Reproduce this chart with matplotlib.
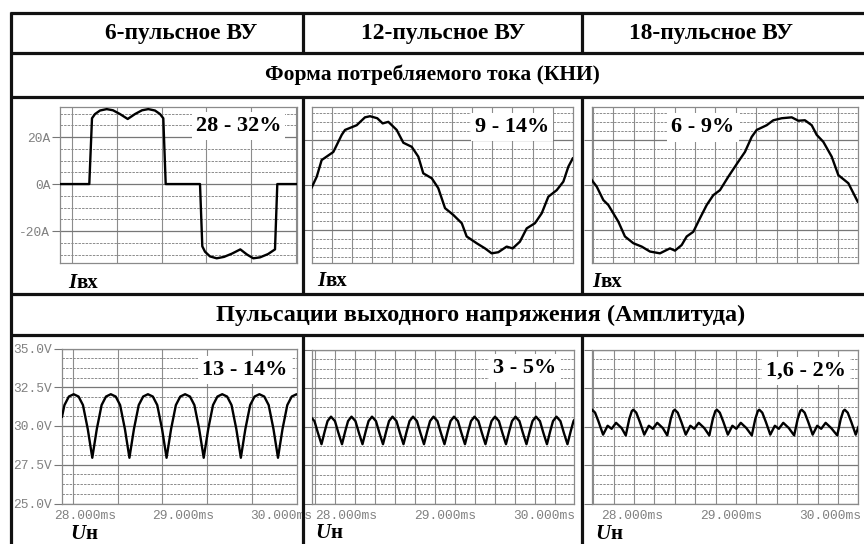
import numpy as np
import matplotlib.pyplot as plt

W, H = 864, 544

col_titles = ['6-пульсное ВУ', '12-пульсное ВУ', '18-пульсное ВУ']
row_titles = ['Форма потребляемого тока (КНИ)',
              'Пульсации выходного напряжения (Амплитуда)']
thd_labels = ['28 - 32%', '9 - 14%', '6 - 9%']
ripple_labels = ['13 - 14%', '3 - 5%', '1,6 - 2%']

t_i6 = [-1.071, 1.545, 1.786, 2.054, 2.500, 3.098, 3.661, 4.286, 4.973, 5.625,
        6.250, 6.813, 7.411, 7.857, 8.152, 8.366, 11.429, 11.634, 11.875, 12.321,
        12.920, 13.571, 14.286, 15.027, 15.625, 16.188, 16.786, 17.500, 18.125,
        18.330, 20.089]
i6 = [0, 0, 28.0, 29.8, 31.3, 31.9, 31.4, 29.8, 27.7, 29.8,
      31.4, 31.9, 31.3, 29.8, 28.0, 0, 0, -26.5, -28.8, -30.8,
      -31.6, -31.0, -29.6, -27.8, -30.0, -31.6, -31.2, -29.8, -27.8,
      0, 0]

t_i12 = [0.00, 0.41, 0.81, 1.76, 2.44, 2.71, 3.66, 4.33, 4.74, 5.33,
         5.77, 6.23, 6.91, 7.45, 8.13, 8.67, 9.07, 9.76, 10.29, 10.84,
         11.51, 12.20, 12.60, 13.41, 14.09, 14.63, 15.17, 15.85, 16.34, 16.93,
         17.48, 18.15, 18.70, 19.24, 19.92, 20.46, 20.87, 21.22]
i12 = [-1.1, 3.7, 11.1, 14.7, 22.3, 24.5, 26.6, 30.1, 30.6, 29.7,
       27.4, 28.1, 24.5, 18.8, 17.0, 12.6, 5.2, 3.0, -1.4, -10.3,
       -13.3, -17.0, -22.9, -25.9, -28.2, -30.4, -29.9, -27.4, -28.2, -25.2,
       -19.3, -17.0, -12.6, -5.2, -2.3, 1.5, 8.2, 11.8]

t_i18 = [0.00, 0.40, 0.93, 1.33, 2.13, 2.66, 3.33, 4.00, 4.66, 5.46,
         6.00, 6.26, 6.66, 7.20, 7.60, 8.13, 8.66, 9.20, 9.73, 10.26,
         10.93, 11.73, 12.26, 12.80, 13.20, 14.00, 14.53, 15.20, 16.00, 16.53,
         17.06, 17.60, 18.00, 18.53, 19.20, 19.73, 20.53, 21.28]
i18 = [2.2, -0.7, -6.7, -8.9, -16.3, -22.9, -25.9, -27.4, -29.6, -30.4,
       -28.9, -28.2, -29.2, -26.7, -22.9, -20.8, -14.8, -8.9, -4.5, -2.3,
       3.7, 10.4, 14.7, 21.4, 24.5, 26.6, 28.8, 29.7, 30.1, 28.6,
       28.8, 26.6, 22.3, 19.2, 12.6, 4.4, 0.8, -7.4]

# output voltage, t in ms, u in V
t_u6 = [27.765, 27.790, 27.835, 27.884, 27.934, 27.979, 28.028, 28.074,
        28.120, 28.169, 28.214, 28.263, 28.313, 28.358, 28.407, 28.453,
        28.499, 28.548, 28.593, 28.642, 28.692, 28.737, 28.786, 28.832,
        28.878, 28.927, 28.972, 29.021, 29.071, 29.116, 29.165, 29.211,
        29.257, 29.306, 29.351, 29.400, 29.450, 29.495, 29.544, 29.590,
        29.636, 29.685, 29.730, 29.779, 29.829, 29.874, 29.923, 29.969,
        30.015, 30.064, 30.109, 30.158, 30.163]
u6 = [30.60, 31.35, 31.90, 32.05, 31.90, 31.35, 29.80, 27.95,
      29.80, 31.35, 31.90, 32.05, 31.90, 31.35, 29.80, 27.95,
      29.80, 31.35, 31.90, 32.05, 31.90, 31.35, 29.80, 27.95,
      29.80, 31.35, 31.90, 32.05, 31.90, 31.35, 29.80, 27.95,
      29.80, 31.35, 31.90, 32.05, 31.90, 31.35, 29.80, 27.95,
      29.80, 31.35, 31.90, 32.05, 31.90, 31.35, 29.80, 27.95,
      29.80, 31.35, 31.90, 32.05, 32.04]

t_u12 = [27.657, 27.685, 27.719,
         27.756, 27.789, 27.817, 27.852, 27.892, 27.926,
         27.963, 27.996, 28.024, 28.059, 28.099, 28.133,
         28.170, 28.203, 28.231, 28.266, 28.306, 28.340,
         28.377, 28.410, 28.438, 28.473, 28.513, 28.547,
         28.584, 28.617, 28.645, 28.680, 28.720, 28.754,
         28.791, 28.824, 28.852, 28.887, 28.927, 28.961,
         28.998, 29.031, 29.059, 29.094, 29.134, 29.168,
         29.205, 29.238, 29.266, 29.301, 29.341, 29.375,
         29.412, 29.445, 29.473, 29.508, 29.548, 29.582,
         29.619, 29.652, 29.680, 29.715, 29.755, 29.789,
         29.826, 29.859, 29.887, 29.922, 29.962, 29.996,
         30.033, 30.066, 30.094, 30.129, 30.169, 30.203,
         30.240, 30.273, 30.301, 30.306]
u12 = [30.55, 30.35, 29.60,
       28.85, 29.70, 30.35, 30.64, 30.35, 29.60,
       28.85, 29.70, 30.35, 30.64, 30.35, 29.60,
       28.85, 29.70, 30.35, 30.64, 30.35, 29.60,
       28.85, 29.70, 30.35, 30.64, 30.35, 29.60,
       28.85, 29.70, 30.35, 30.64, 30.35, 29.60,
       28.85, 29.70, 30.35, 30.64, 30.35, 29.60,
       28.85, 29.70, 30.35, 30.64, 30.35, 29.60,
       28.85, 29.70, 30.35, 30.64, 30.35, 29.60,
       28.85, 29.70, 30.35, 30.64, 30.35, 29.60,
       28.85, 29.70, 30.35, 30.64, 30.35, 29.60,
       28.85, 29.70, 30.35, 30.64, 30.35, 29.60,
       28.85, 29.70, 30.35, 30.64, 30.35, 29.60,
       28.85, 29.70, 30.35, 30.40]

t_u18 = [27.596, 27.600, 27.630, 27.666, 27.711, 27.757, 27.797, 27.842, 27.898,
         27.940, 27.976, 28.001, 28.016, 28.046, 28.082, 28.127, 28.173, 28.213,
         28.258, 28.314, 28.359, 28.395, 28.420, 28.435, 28.465, 28.501, 28.546,
         28.592, 28.632, 28.677, 28.733, 28.784, 28.820, 28.845, 28.860, 28.890,
         28.926, 28.971, 29.017, 29.057, 29.102, 29.158, 29.213, 29.249, 29.274,
         29.289, 29.319, 29.355, 29.400, 29.446, 29.486, 29.531, 29.587, 29.641,
         29.677, 29.702, 29.717, 29.747, 29.783, 29.828, 29.874, 29.914, 29.959,
         30.015, 30.076, 30.112, 30.137, 30.152, 30.182, 30.218, 30.263, 30.289]
u18 = [31.05, 31.09, 30.90, 30.30, 29.47, 30.05, 29.85, 30.24, 29.90,
       29.42, 30.50, 31.00, 31.09, 30.90, 30.30, 29.47, 30.05, 29.85,
       30.24, 29.90, 29.42, 30.50, 31.00, 31.09, 30.90, 30.30, 29.47,
       30.05, 29.85, 30.24, 29.90, 29.42, 30.50, 31.00, 31.09, 30.90,
       30.30, 29.47, 30.05, 29.85, 30.24, 29.90, 29.42, 30.50, 31.00,
       31.09, 30.90, 30.30, 29.47, 30.05, 29.85, 30.24, 29.90, 29.42,
       30.50, 31.00, 31.09, 30.90, 30.30, 29.47, 30.05, 29.85, 30.24,
       29.90, 29.42, 30.50, 31.00, 31.09, 30.90, 30.30, 29.47, 29.96]

SERIF = ['Liberation Serif', 'DejaVu Serif']
MONO = ['Liberation Mono', 'DejaVu Sans Mono']
TICKC = '#808080'

fig = plt.figure(figsize=(W / 100, H / 100), dpi=100)
fig.patch.set_facecolor('white')


def panel(box, xlim, ylim, vlines, hmajor, hminor):
    x0, y0, x1, y1 = box
    ax = fig.add_axes([x0 / W, 1 - y1 / H, (x1 - x0) / W, (y1 - y0) / H])
    ax.set_xlim(xlim)
    ax.set_ylim(ylim)
    for v in vlines:
        ax.axvline(v, color='#8c8c8c', lw=0.8, zorder=1)
    for h in hminor:
        ax.axhline(h, color='#8c8c8c', lw=0.7, ls=(0, (2.5, 1.2)), zorder=1)
    for h in hmajor:
        ax.axhline(h, color='#777777', lw=0.9, zorder=1)
    for s in ax.spines.values():
        s.set_color('#8a8a8a')
        s.set_linewidth(0.9)
    ax.set_yticks(hmajor)
    ax.set_yticklabels([])
    ax.tick_params(axis='y', length=6, width=0.8, color='#777777', pad=1,
                   labelsize=9.3, labelcolor=TICKC)
    ax.set_xticks([])
    return ax


cur_major = [-20, 0, 20]
volt_major = [25, 27.5, 30, 32.5, 35]
volt_minor = [v for v in np.arange(25, 35.01, 0.625) if v not in volt_major]

axA = panel((60, 107, 297, 263), (-1.071, 20.089), (-33.6, 32.8),
            np.arange(0, 20.1, 4), cur_major,
            [v for v in range(-30, 31, 5) if v % 20])
axA.set_yticklabels(['-20A', '0A', '20A'], family=MONO)
axA.plot(t_i6, i6, color='black', lw=1.7, zorder=3)

axB = panel((311.7, 107, 572.7, 263), (0, 21.22), (-34.7, 34.7),
            np.arange(1.632, 21.2, 1.632), cur_major,
            [v for v in range(-32, 33, 4) if v % 20])
axB.plot(t_i12, i12, color='black', lw=1.7, zorder=3)

axC = panel((591.7, 107, 857.7, 263), (0, 21.28), (-34.7, 34.7),
            np.arange(0.104, 21.3, 1.632), cur_major,
            [v for v in range(-32, 33, 4) if v % 20])
axC.plot(t_i18, i18, color='black', lw=1.7, zorder=3)

axD = panel((62, 348.5, 297, 503.5), (27.765, 30.163), (25, 35),
            27.874 + 0.4582 * np.arange(5), volt_major, volt_minor)
axD.set_yticklabels(['25.0V', '27.5V', '30.0V', '32.5V', '35.0V'], family=MONO)
axD.plot(t_u6, u6, color='black', lw=1.7, zorder=3)

axE = panel((311.7, 349.5, 574, 503.5), (27.657, 30.306), (25, 35),
            np.arange(27.690, 30.31, 0.202), volt_major, volt_minor)
axE.plot(t_u12, u12, color='black', lw=1.7, zorder=3)

axF = panel((591.7, 349.5, 858.3, 503.5), (27.596, 30.289), (25, 35),
            np.arange(27.612, 30.29, 0.206), volt_major, volt_minor)
axF.plot(t_u18, u18, color='black', lw=1.7, zorder=3)

for ax in (axD, axE, axF):
    ax.set_xticks([28, 29, 30])
    ax.set_xticklabels(['28.000ms', '29.000ms', '30.000ms'], family=MONO)
    ax.tick_params(axis='x', length=0, pad=4.5, labelsize=9.3, labelcolor=TICKC)

# table frame, headers, labels (pixel coordinates)
ov = fig.add_axes([0, 0, 1, 1], facecolor='none')
ov.set_xlim(0, W)
ov.set_ylim(H, 0)
ov.axis('off')

lw_tab = 2.3
for y in [13.3, 53, 96.5, 293.5, 335]:
    ov.plot([9.8, W], [y, y], color='#111111', lw=lw_tab, solid_capstyle='butt')
ov.plot([11, 11], [12.2, H], color='#111111', lw=lw_tab, solid_capstyle='butt')
for x in [303.3, 581.5]:
    for ya, yb in [(13.3, 53), (96.5, 293.5), (335, H)]:
        ov.plot([x, x], [ya, yb], color='#111111', lw=lw_tab, solid_capstyle='butt')

for x, s in zip([181, 443, 711], col_titles):
    ov.text(x, 34, s, ha='center', va='center', fontsize=16.8,
            weight='bold', family=SERIF)
ov.text(432, 75, row_titles[0], ha='center', va='center', fontsize=15.5,
        weight='bold', family=SERIF)
ov.text(481, 315, row_titles[1], ha='center', va='center', fontsize=17.5,
        weight='bold', family=SERIF)

box = dict(facecolor='white', edgecolor='none', pad=3)
for (x, y), s in zip([(238.5, 126), (512, 127), (703, 127.5)], thd_labels):
    ov.text(x, y, s, ha='center', va='center', fontsize=16, weight='bold',
            family=SERIF, bbox=box)
for (x, y), s in zip([(245, 370), (525, 368), (806, 371)], ripple_labels):
    ov.text(x, y, s, ha='center', va='center', fontsize=16, weight='bold',
            family=SERIF, bbox=box)

for x, y in [(68, 288), (317, 286), (592, 287)]:
    t = ov.text(x, y, 'I', ha='left', va='baseline', fontsize=15,
                style='italic', weight='bold', family=SERIF)
    ov.annotate('вх', xy=(1, 0), xycoords=t, ha='left', va='bottom',
                fontsize=15, weight='bold', family=SERIF)
for x, y in [(70, 539), (315, 538), (595, 539)]:
    t = ov.text(x, y, 'U', ha='left', va='baseline', fontsize=15,
                style='italic', weight='bold', family=SERIF)
    ov.annotate('н', xy=(1, 0), xycoords=t, ha='left', va='bottom',
                fontsize=15, weight='bold', family=SERIF)

fig.savefig('out.png', dpi=100)
